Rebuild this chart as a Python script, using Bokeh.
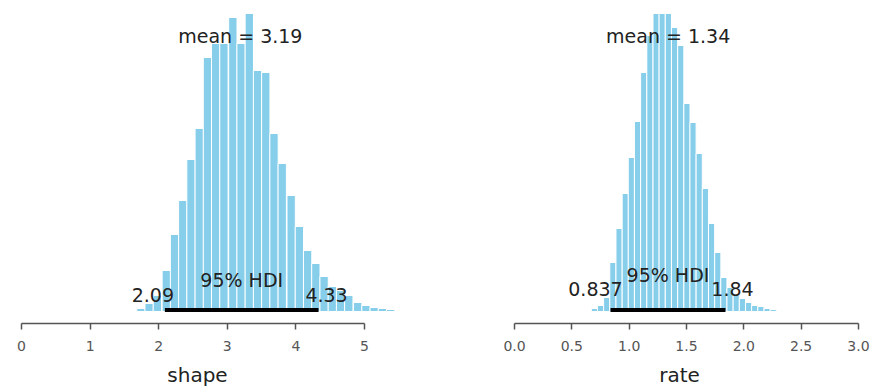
from bokeh.plotting import figure
from bokeh.layouts import row
from bokeh.models import Range1d, FixedTicker, ColumnDataSource
from bokeh.core.properties import value
from bokeh.embed import file_html
from bokeh.resources import INLINE

# ---------------- data ----------------
shape_bin_left = [1.68, 1.80, 1.92, 2.05, 2.17, 2.29, 2.41, 2.53, 2.65, 2.77,
                  2.89, 3.02, 3.14, 3.26, 3.38, 3.50, 3.62, 3.74, 3.87, 3.99,
                  4.11, 4.23, 4.35, 4.47, 4.59, 4.71, 4.84, 4.96, 5.08, 5.20, 5.32]
shape_bin_width = 0.1214
shape_counts = [3, 8, 16, 41, 77, 111, 152, 183, 254, 268,
                268, 294, 268, 298, 241, 239, 178, 148, 116, 85,
                61, 48, 35, 25, 21, 16, 9, 6, 4, 3, 2]
shape_mean = 3.19
shape_hdi = [2.09, 4.33]
shape_ticks = [0, 1, 2, 3, 4, 5]
shape_tick_labels = ["0", "1", "2", "3", "4", "5"]

rate_bin_left = [0.670, 0.723, 0.777, 0.831, 0.885, 0.939, 0.992, 1.046, 1.100, 1.154,
                 1.208, 1.261, 1.315, 1.369, 1.423, 1.477, 1.530, 1.584, 1.638, 1.692,
                 1.746, 1.799, 1.853, 1.907, 1.961, 2.015, 2.068, 2.122, 2.176, 2.230, 2.284]
rate_bin_width = 0.0538
rate_counts = [3, 6, 14, 49, 83, 118, 154, 190, 239, 276,
               298, 298, 298, 284, 266, 208, 189, 158, 123, 88,
               59, 34, 24, 16, 13, 9, 6, 5, 3, 2, 1]
rate_mean = 1.34
rate_hdi = [0.837, 1.84]
rate_ticks = [0.0, 0.5, 1.0, 1.5, 2.0, 2.5, 3.0]
rate_tick_labels = ["0.0", "0.5", "1.0", "1.5", "2.0", "2.5", "3.0"]

FONT = value("DejaVu Sans")
TXT = "#222222"


def panel(name, lefts, width, counts, mean, hdi, ticks, tick_labels,
          xr, fig_w, border_l, border_r, mean_y, hdi_txt_y, lim_y, lim_off,
          mean_label, lo_label, hi_label):
    p = figure(width=fig_w, height=392, x_range=Range1d(*xr), y_range=Range1d(-12, 311),
               output_backend="svg", toolbar_location=None, y_axis_location=None,
               min_border_left=border_l, min_border_right=border_r,
               min_border_top=0, min_border_bottom=69)
    p.outline_line_color = None
    p.xgrid.visible = False
    p.ygrid.visible = False
    p.background_fill_color = "white"
    p.border_fill_color = "white"

    src = ColumnDataSource(dict(left=lefts, right=[l + width for l in lefts], top=counts))
    p.quad(left="left", right="right", bottom=0, top="top", source=src,
           fill_color="#87CEEB", line_color="white", line_width=1)

    p.line(x=hdi, y=[1.5, 1.5], line_width=4, line_color="black", line_cap="butt")

    p.text(x=[mean], y=[mean_y], text=[mean_label], text_align="center",
           text_baseline="middle", text_font=FONT, text_font_size="19px", text_color=TXT)
    p.text(x=[(hdi[0] + hdi[1]) / 2], y=[hdi_txt_y], text=["95% HDI"], text_align="center",
           text_baseline="middle", text_font=FONT, text_font_size="19px", text_color=TXT)
    p.text(x=[hdi[0]], y=[lim_y], text=[lo_label], text_align="center", x_offset=lim_off[0],
           text_baseline="middle", text_font=FONT, text_font_size="19px", text_color=TXT)
    p.text(x=[hdi[1]], y=[lim_y], text=[hi_label], text_align="center", x_offset=lim_off[1],
           text_baseline="middle", text_font=FONT, text_font_size="19px", text_color=TXT)

    ax = p.xaxis[0]
    ax.ticker = FixedTicker(ticks=ticks)
    ax.major_label_overrides = {t: s for t, s in zip(ticks, tick_labels)}
    ax.bounds = (ticks[0], ticks[-1])
    ax.axis_line_color = "#555555"
    ax.axis_line_width = 1.5
    ax.major_tick_line_color = "#555555"
    ax.major_tick_line_width = 1.5
    ax.major_tick_out = 6
    ax.major_tick_in = 0
    ax.minor_tick_line_color = None
    ax.major_label_standoff = 11
    ax.major_label_text_font = "DejaVu Sans"
    ax.major_label_text_font_size = "14px"
    ax.major_label_text_color = "#555555"
    ax.axis_label = name
    ax.axis_label_text_font = "DejaVu Sans"
    ax.axis_label_text_font_size = "20px"
    ax.axis_label_text_font_style = "normal"
    ax.axis_label_text_color = TXT
    ax.axis_label_standoff = 9
    return p


p1 = panel("shape", shape_bin_left, shape_bin_width, shape_counts, shape_mean, shape_hdi,
           shape_ticks, shape_tick_labels, (-0.306, 5.437), 437, 0, 43,
           276, 32, 17, (-12, 8), "mean = 3.19", "2.09", "4.33")
p2 = panel("rate", rate_bin_left, rate_bin_width, rate_counts, rate_mean, rate_hdi,
           rate_ticks, rate_tick_labels, (-0.131, 3.009), 437, 62, 15,
           276, 37, 23, (-15, 7), "mean = 1.34", "0.837", "1.84")

layout = row(p1, p2)
open("out.html", "w").write(file_html(layout, INLINE))
